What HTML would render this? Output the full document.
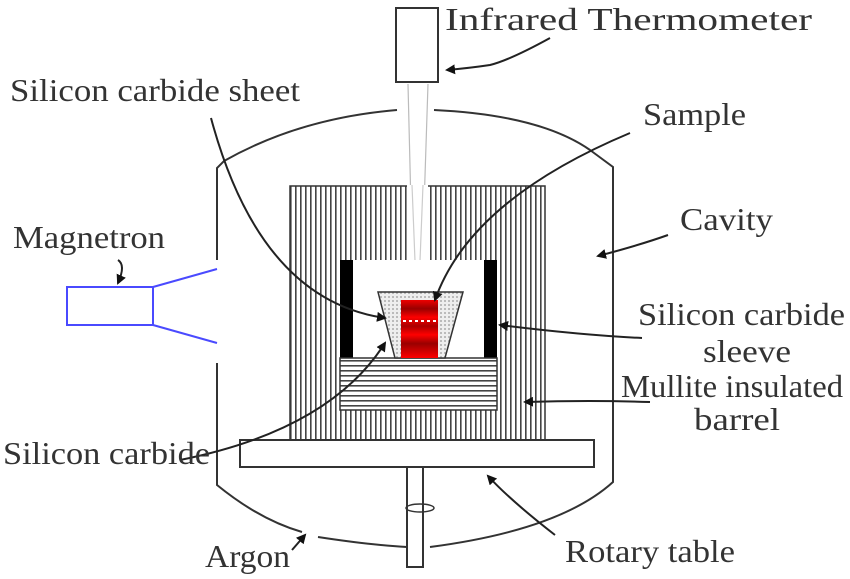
<!DOCTYPE html>
<html><head><meta charset="utf-8"><style>
html,body{margin:0;padding:0;background:#fff;}
svg{display:block}
text{font-family:"Liberation Serif",serif;font-size:32px;fill:#333;}
</style></head><body>
<svg width="850" height="579" viewBox="0 0 850 579" xmlns="http://www.w3.org/2000/svg">
<defs>
<pattern id="vs" width="5" height="10" patternUnits="userSpaceOnUse"><rect width="5" height="10" fill="#fff"/><rect x="0" width="1.6" height="10" fill="#444"/></pattern>
<pattern id="hs" width="10" height="5" patternUnits="userSpaceOnUse"><rect width="10" height="5" fill="#fff"/><rect y="0" width="10" height="1.6" fill="#444"/></pattern>
<pattern id="dots" width="4" height="4" patternUnits="userSpaceOnUse"><rect width="4" height="4" fill="#eee"/><rect width="2" height="2" fill="#bbb"/></pattern>
<linearGradient id="red" x1="0" y1="0" x2="0" y2="1">
<stop offset="0" stop-color="#e00"/><stop offset="0.15" stop-color="#900"/><stop offset="0.3" stop-color="#f00"/><stop offset="0.45" stop-color="#a00"/><stop offset="0.6" stop-color="#f00"/><stop offset="0.75" stop-color="#900"/><stop offset="1" stop-color="#f00"/></linearGradient>
<marker id="ah" markerWidth="10" markerHeight="10" refX="8" refY="5" orient="auto" markerUnits="userSpaceOnUse"><path d="M0,0 L10,5 L0,10 z" fill="#111"/></marker>
</defs>
<g fill="none" stroke="#333" stroke-width="2">
<path d="M217,260 L217,168 L224,161 Q300,118 397,110"/>
<path d="M434,110 Q540,115 590,150 L613,167 L613,482 Q560,530 430,547"/>
<path d="M217,363 L217,485 Q260,520 302,532"/>
<path d="M318,537 Q370,545 407,547"/>
</g>
<rect x="396" y="8" width="42" height="74" fill="#fff" stroke="#333" stroke-width="2"/>
<path d="M408,84 L414,330 M428,84 L420,330" stroke="#bbb" stroke-width="1.2" fill="none"/>
<rect x="290" y="186" width="255" height="254" fill="url(#vs)" stroke="#333" stroke-width="1.5"/>
<rect x="407" y="185" width="21" height="76" fill="#fff"/>
<path d="M412,185 L415,261 M423,185 L420,261" stroke="#ccc" stroke-width="1.2"/>
<rect x="340" y="260" width="155" height="98" fill="#fff"/>
<rect x="340" y="260" width="13" height="98" fill="#000"/>
<rect x="484" y="260" width="13" height="98" fill="#000"/>
<rect x="340" y="358" width="157" height="52" fill="url(#hs)" stroke="#333" stroke-width="1.5"/>
<path d="M378,292 L463,292 L445,358 L395,358 Z" fill="url(#dots)" stroke="#333" stroke-width="1.5"/>
<rect x="401" y="300" width="37" height="58" fill="url(#red)"/>
<path d="M403,321 L436,321" stroke="#fff" stroke-width="2" stroke-dasharray="3,3"/>
<rect x="240" y="440" width="354" height="27" fill="#fff" stroke="#333" stroke-width="2"/>
<rect x="407" y="467" width="16" height="100" fill="#fff" stroke="#333" stroke-width="2"/>
<ellipse cx="420" cy="508" rx="14" ry="4" fill="none" stroke="#333" stroke-width="1.5"/>
<g stroke="#4a4aff" stroke-width="2" fill="none">
<rect x="67" y="287" width="86" height="38"/>
<path d="M153,287 L217,269 M153,325 L217,343"/>
</g>
<g fill="none" stroke="#222" stroke-width="2" marker-end="url(#ah)">
<path d="M550,38 Q510,60 490,65 Q470,68 447,70"/>
<path d="M211,118 Q260,300 385,318"/>
<path d="M630,133 Q470,200 435,300"/>
<path d="M668,235 Q640,245 598,256"/>
<path d="M642,338 Q580,335 500,325"/>
<path d="M650,402 Q590,400 525,402"/>
<path d="M180,460 Q330,430 385,343"/>
<path d="M118,260 Q126,265 118,283"/>
<path d="M292,550 L305,535"/>
<path d="M555,535 Q510,500 488,476"/>
</g>
<text x="445" y="30" textLength="367" lengthAdjust="spacingAndGlyphs">Infrared Thermometer</text>
<text x="10" y="101" textLength="290" lengthAdjust="spacingAndGlyphs">Silicon carbide sheet</text>
<text x="643" y="125" textLength="103" lengthAdjust="spacingAndGlyphs">Sample</text>
<text x="680" y="230" textLength="93" lengthAdjust="spacingAndGlyphs">Cavity</text>
<text x="13" y="248" textLength="152" lengthAdjust="spacingAndGlyphs">Magnetron</text>
<text x="638" y="325" textLength="207" lengthAdjust="spacingAndGlyphs">Silicon carbide</text>
<text x="703" y="362" textLength="88" lengthAdjust="spacingAndGlyphs">sleeve</text>
<text x="621" y="397" textLength="222" lengthAdjust="spacingAndGlyphs">Mullite insulated</text>
<text x="694" y="430" textLength="86" lengthAdjust="spacingAndGlyphs">barrel</text>
<text x="3" y="464" textLength="207" lengthAdjust="spacingAndGlyphs">Silicon carbide</text>
<text x="205" y="567" textLength="85" lengthAdjust="spacingAndGlyphs">Argon</text>
<text x="565" y="562" textLength="170" lengthAdjust="spacingAndGlyphs">Rotary table</text>
</svg>
</body></html>
